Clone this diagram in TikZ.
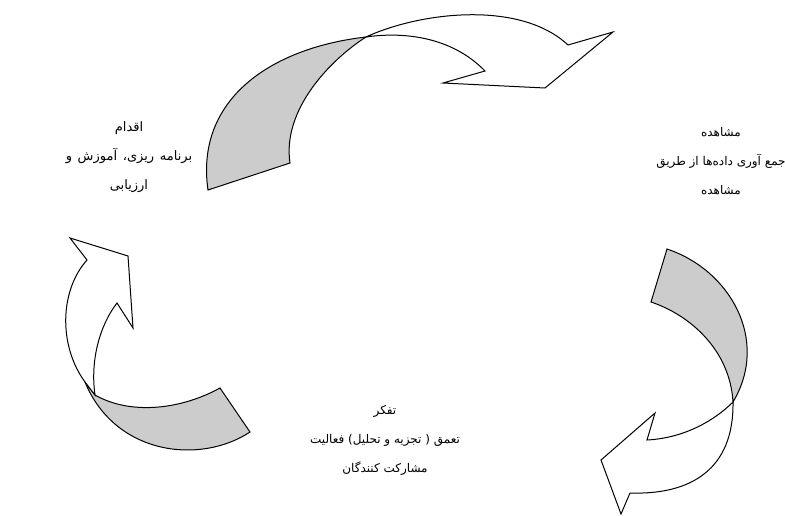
\documentclass[tikz,border=0pt]{standalone}
\usepackage{fontspec}
\newfontfamily\fa[Script=Arabic]{DejaVu Sans}
\newcommand\pw[1]{\hbox{#1}}
\definecolor{bandgray}{RGB}{204,204,204}
\begin{document}
\begin{tikzpicture}[x=1pt,y=-1pt,
  band/.style={draw=black,line width=1pt,line join=miter,fill=bandgray},
  face/.style={draw=black,line width=1pt,line join=miter,fill=white},
  lbl/.style={font=\fa\fontsize{12}{29}\selectfont,align=center,inner sep=0pt}]
\useasboundingbox (0,0) rectangle (785,515);
% top arrow
\path[band] (208,190) .. controls (195,100) and (270,48) .. (366,37)
  .. controls (330,60) and (282,110) .. (290,163) -- cycle;
\path[face] (366,37) .. controls (420,12) and (520,0) .. (568,45)
  -- (613,32) -- (545,88) -- (443,83) -- (485,71)
  .. controls (450,35) and (400,32) .. (366,37) -- cycle;
% right arrow
\path[band] (667,249) .. controls (730,270) and (770,340) .. (733,402)
  .. controls (730,350) and (690,315) .. (651,302) -- cycle;
\path[face] (733,402) .. controls (734,470) and (690,495) .. (630,493)
  -- (621,514) -- (601,460) -- (655,413) -- (647,440)
  .. controls (685,438) and (715,420) .. (733,402) -- cycle;
% left arrow
\path[band] (220,388) .. controls (180,410) and (130,415) .. (95,395)
  -- (85,382) .. controls (115,455) and (200,465) .. (250,432) -- cycle;
\path[face] (85,382) .. controls (58,345) and (60,290) .. (87,260)
  -- (70,238) -- (128,256) -- (133,328) -- (117,303)
  .. controls (100,325) and (90,360) .. (95,395) -- cycle;
% labels
\node[lbl,font=\fa\fontsize{13}{29}\selectfont] (act) at (129,157) {\pw{اقدام}\\\pw{و}\hspace{1.5pt} \pw{آموزش}\hspace{1.5pt} \pw{،}\pw{ریزی}\hspace{1.5pt} \pw{برنامه}\\\pw{ارزیابی}};
\node[lbl] (obs) at (721,161) {\pw{مشاهده}\\\pw{طریق} \pw{از} \pw{داده^^^^200cها} \pw{آوری} \pw{جمع}\\\pw{مشاهده}};
\node[lbl] (ref) at (385,440) {\pw{تفکر}\\\pw{فعالیت} \pw{)}\pw{تحلیل} \pw{و} \pw{تجزیه} \pw{(} \pw{تعمق}\\\pw{کنندگان} \pw{مشارکت}};
\end{tikzpicture}
\end{document}
